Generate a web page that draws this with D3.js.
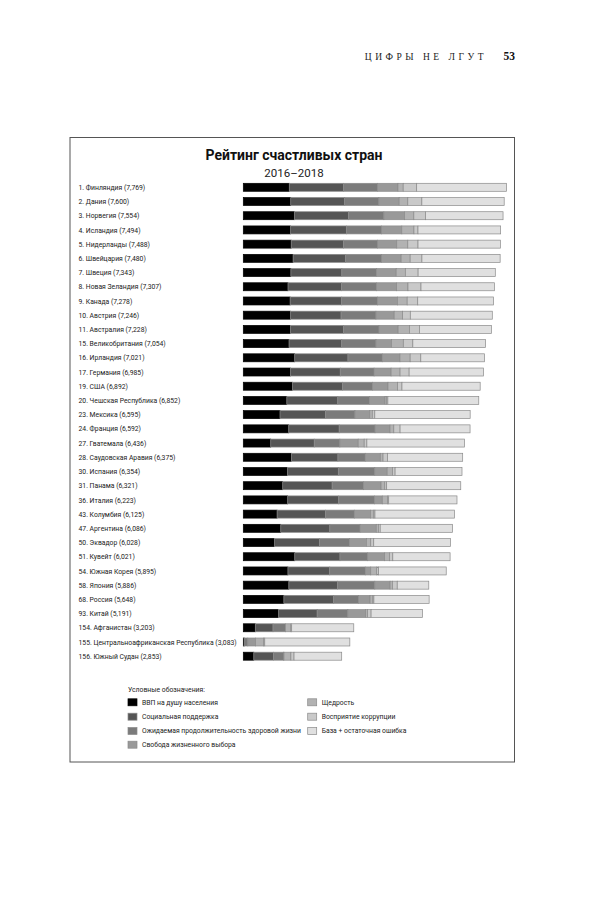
<!DOCTYPE html>
<html><head><meta charset="utf-8">
<script src="https://cdn.jsdelivr.net/npm/d3@7"></script>
<style>body{margin:0;background:#fff}svg{display:block}</style>
</head><body>
<script>
const countries = ["1. Финляндия (7,769)","2. Дания (7,600)","3. Норвегия (7,554)","4. Исландия (7,494)","5. Нидерланды (7,488)","6. Швейцария (7,480)","7. Швеция (7,343)","8. Новая Зеландия (7,307)","9. Канада (7,278)","10. Австрия (7,246)","11. Австралия (7,228)","15. Великобритания (7,054)","16. Ирландия (7,021)","17. Германия (6,985)","19. США (6,892)","20. Чешская Республика (6,852)","23. Мексика (6,595)","24. Франция (6,592)","27. Гватемала (6,436)","28. Саудовская Аравия (6,375)","30. Испания (6,354)","31. Панама (6,321)","36. Италия (6,223)","43. Колумбия (6,125)","47. Аргентина (6,086)","50. Эквадор (6,028)","51. Кувейт (6,021)","54. Южная Корея (5,895)","58. Япония (5,886)","68. Россия (5,648)","93. Китай (5,191)","154. Афганистан (3,203)","155. Центральноафриканская Республика (3,083)","156. Южный Судан (2,853)"];
const gdp        = [1.340,1.383,1.488,1.380,1.396,1.452,1.387,1.303,1.365,1.376,1.372,1.333,1.499,1.373,1.433,1.269,1.070,1.324,0.800,1.403,1.286,1.149,1.294,0.985,1.092,0.912,1.500,1.301,1.327,1.183,1.029,0.350,0.026,0.306];
const social     = [1.587,1.573,1.582,1.624,1.522,1.526,1.487,1.557,1.505,1.475,1.548,1.538,1.553,1.454,1.457,1.487,1.323,1.472,1.269,1.357,1.484,1.442,1.488,1.410,1.432,1.312,1.319,1.219,1.419,1.452,1.125,0.517,0.000,0.575];
const health     = [0.986,0.996,1.028,1.026,0.999,1.052,1.009,1.026,1.039,1.016,1.036,0.996,0.999,0.987,0.874,0.920,0.861,1.045,0.746,0.795,1.062,0.910,1.039,0.841,0.881,0.868,0.808,1.036,1.088,0.726,0.893,0.361,0.105,0.295];
const freedom    = [0.596,0.592,0.603,0.591,0.557,0.572,0.574,0.585,0.584,0.532,0.557,0.450,0.516,0.495,0.454,0.457,0.433,0.436,0.535,0.439,0.362,0.516,0.231,0.470,0.471,0.498,0.493,0.159,0.445,0.334,0.521,0.000,0.225,0.010];
const generosity = [0.153,0.252,0.271,0.354,0.322,0.263,0.267,0.330,0.285,0.244,0.332,0.348,0.298,0.261,0.280,0.046,0.074,0.111,0.175,0.080,0.153,0.109,0.158,0.099,0.066,0.126,0.142,0.175,0.069,0.082,0.058,0.158,0.235,0.202];
const corruption = [0.393,0.410,0.341,0.118,0.298,0.343,0.373,0.380,0.308,0.226,0.290,0.278,0.310,0.265,0.128,0.036,0.073,0.183,0.078,0.132,0.079,0.054,0.030,0.034,0.050,0.087,0.097,0.056,0.140,0.031,0.100,0.025,0.035,0.091];
const dystopia   = [2.62,2.40,2.26,2.41,2.40,2.28,2.25,2.14,2.21,2.39,2.10,2.12,1.86,2.17,2.28,2.65,2.78,2.04,2.85,2.19,1.95,2.16,1.99,2.32,2.11,2.24,1.67,1.97,0.92,1.61,1.50,1.81,2.48,1.39];
const seriesNames = ["ВВП на душу населения","Социальная поддержка","Ожидаемая продолжительность здоровой жизни","Свобода жизненного выбора","Щедрость","Восприятие коррупции","База + остаточная ошибка"];
const seriesColors = ["#000000","#555555","#7b7b7b","#999999","#b2b2b2","#c9c9c9","#e0e0e0"];
const title = "Рейтинг счастливых стран";
const subtitle = "2016–2018";
const legendTitle = "Условные обозначения:";
const runningHead = "ЦИФРЫ НЕ ЛГУТ";
const pageNumber = "53";

const W = 600, H = 899;
const svg = d3.select("body").append("svg").attr("width", W).attr("height", H);

// running head
svg.append("text").attr("x", 487).attr("y", 59.5).attr("text-anchor","end")
  .attr("font-family","Liberation Serif, DejaVu Serif, serif").attr("font-size", 9.5)
  .attr("letter-spacing", 3.5).attr("fill","#222").text(runningHead);
svg.append("text").attr("x", 503.5).attr("y", 60).attr("font-family","Liberation Serif, DejaVu Serif, serif")
  .attr("font-size", 11.5).attr("font-weight","bold").attr("fill","#111").text(pageNumber);

// frame
svg.append("rect").attr("x",70).attr("y",137.5).attr("width",444.5).attr("height",624.5)
  .attr("fill","none").attr("stroke","#555").attr("stroke-width",1);

svg.append("text").attr("x",294).attr("y",159.5).attr("text-anchor","middle")
  .attr("font-family","Roboto, 'Noto Sans', sans-serif").attr("font-weight","bold").attr("font-size",14.5)
  .attr("textLength",177).attr("lengthAdjust","spacingAndGlyphs").attr("fill","#111").text(title);
svg.append("text").attr("x",294).attr("y",176.5).attr("text-anchor","middle")
  .attr("font-family","Roboto, 'Noto Sans', sans-serif").attr("font-size",11.5)
  .attr("fill","#222").text(subtitle);

const rows = countries.map((c,i)=>({name:c, vals:[gdp[i],social[i],health[i],freedom[i],generosity[i],corruption[i],dystopia[i]]}));
const y = d3.scalePoint().domain(countries).range([187.3, 656.2]);
const x = d3.scaleLinear().domain([0, 8]).range([243.3, 243.3 + 8*34.3]);
const barH = 8;

const g = svg.append("g");
const rowG = g.selectAll("g.row").data(rows).join("g").attr("class","row")
  .attr("transform", d => `translate(0,${y(d.name)})`);
rowG.append("text").attr("x",78.5).attr("y",2.6)
  .attr("font-family","Roboto, 'Noto Sans', sans-serif").attr("font-size",6.8)
  .attr("fill","#222").text(d=>d.name);
rowG.selectAll("rect").data(d => {
  let acc = 0;
  return d.vals.map((v,k)=>{ const s = {x0:acc, x1:acc+v, k}; acc += v; return s; });
}).join("rect")
  .attr("x", s => x(s.x0)).attr("width", s => Math.max(0, x(s.x1)-x(s.x0)))
  .attr("y", -barH/2).attr("height", barH)
  .attr("fill", s => seriesColors[s.k])
  .attr("stroke", s => s.k===0 ? "#000" : "#8a8a8a").attr("stroke-width", 0.7);

// legend
const lg = svg.append("g");
lg.append("text").attr("x",128).attr("y",691.5).attr("font-family","Roboto, 'Noto Sans', sans-serif")
  .attr("font-size",6.8).attr("fill","#222").text(legendTitle);
const legendPos = [[128,702.3],[128,716.7],[128,731],[128,744.7],[307.7,702.3],[307.7,716.7],[307.7,731]];
seriesNames.forEach((n,i)=>{
  const [lx,ly] = legendPos[i];
  lg.append("rect").attr("x",lx).attr("y",ly-3.5).attr("width",9).attr("height",7)
    .attr("fill",seriesColors[i]).attr("stroke", i===0?"#000":"#8a8a8a").attr("stroke-width",0.7);
  lg.append("text").attr("x",lx+14).attr("y",ly+2.4).attr("font-family","Roboto, 'Noto Sans', sans-serif")
    .attr("font-size",6.8).attr("fill","#222").text(n);
});
</script>
</body></html>
